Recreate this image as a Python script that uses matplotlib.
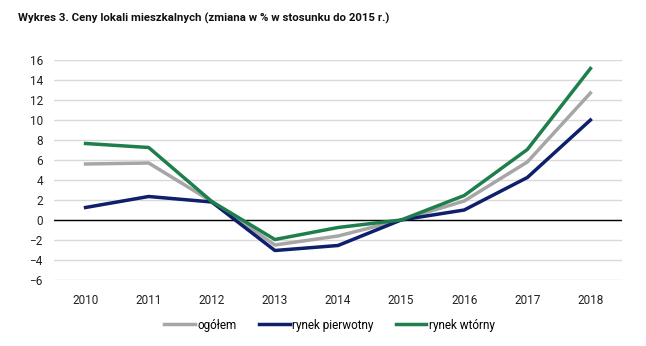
import matplotlib.pyplot as plt
import numpy as np

years = ["2010", "2011", "2012", "2013", "2014", "2015", "2016", "2017", "2018"]
ogolem = [5.6, 5.7, 1.85, -2.5, -1.6, 0.0, 1.9, 5.8, 12.7]
pierwotny = [1.25, 2.35, 1.8, -3.05, -2.55, 0.0, 1.0, 4.25, 10.0]
wtorny = [7.65, 7.25, 1.85, -1.95, -0.75, 0.0, 2.45, 7.05, 15.15]

plt.rcParams["font.family"] = ["Roboto", "DejaVu Sans"]

x = np.arange(len(years))
fig = plt.figure(figsize=(6.46, 3.46), dpi=100)
ax = fig.add_axes([54 / 646, 66 / 346, 568 / 646, 220 / 346])

ax.set_ylim(-6, 16)
ax.set_xlim(-0.5, len(years) - 0.5)
ax.set_yticks(np.arange(-6, 17, 2))
ax.grid(axis="y", color="#D9D9D9", linewidth=1)
ax.set_axisbelow(True)
ax.axhline(0, color="black", linewidth=1, zorder=2)

ax.plot(x, ogolem, color="#A6A6A6", linewidth=2.5, label="ogółem", zorder=3)
ax.plot(x, pierwotny, color="#0E1F6C", linewidth=2.5, label="rynek pierwotny", zorder=3)
ax.plot(x, wtorny, color="#1E7F4C", linewidth=2.5, label="rynek wtórny", zorder=4)

ax.set_xticks(x)
ax.set_xticklabels(years)
ax.tick_params(length=0, labelsize=8.5, colors="#222222", pad=8)
ax.tick_params(axis="x", pad=10)
for s in ax.spines.values():
    s.set_visible(False)

fig.text(18 / 646, 1 - 18 / 346, "Wykres 3. Ceny lokali mieszkalnych (zmiana w % w stosunku do 2015 r.)",
         fontsize=8.2, fontweight="bold", va="center", ha="left", color="#111111")

fig.legend(loc="center", bbox_to_anchor=(0.51, 1 - 325 / 346), ncol=3, frameon=False,
           fontsize=8.5, handlelength=2.6, handletextpad=0.2, columnspacing=1.9)

fig.savefig("out.png", dpi=100)
